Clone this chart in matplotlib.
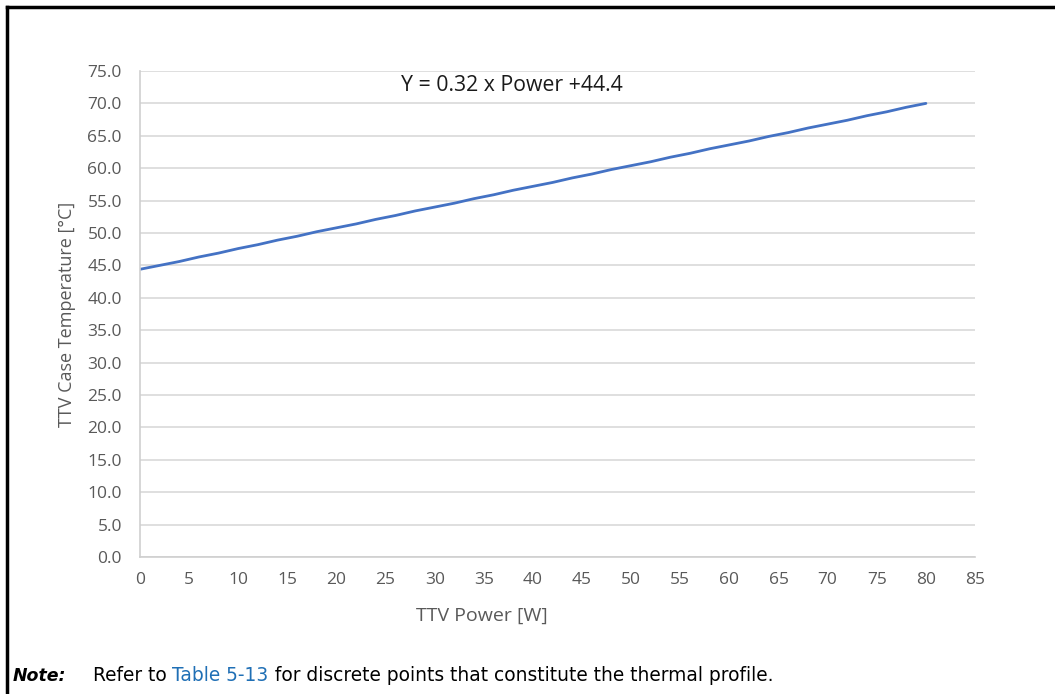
import matplotlib.pyplot as plt
from matplotlib.lines import Line2D

# TTV power [W] and case temperature [C]
power = [0, 2, 4, 6, 8, 10, 12, 14, 16, 18, 20, 22, 24, 26, 28, 30, 32, 34, 36, 38, 40,
         42, 44, 46, 48, 50, 52, 54, 56, 58, 60, 62, 64, 66, 68, 70, 72, 74, 76, 78, 80]
temp = [44.4, 45.0, 45.6, 46.3, 46.9, 47.6, 48.2, 48.9, 49.5, 50.2, 50.8,
        51.4, 52.1, 52.7, 53.4, 54.0, 54.6, 55.3, 55.9, 56.6, 57.2,
        57.8, 58.5, 59.1, 59.8, 60.4, 61.0, 61.7, 62.3, 63.0, 63.6,
        64.2, 64.9, 65.5, 66.2, 66.8, 67.4, 68.1, 68.7, 69.4, 70.0]
xticks = list(range(0, 90, 5))
yticks = [i * 5.0 for i in range(16)]

fig = plt.figure(figsize=(10.55, 6.94), dpi=100)
ax = fig.add_axes([0.1327, 0.1974, 0.7915, 0.7003])

ax.plot(power, temp, color='#4472C4', lw=2.0, solid_capstyle='round')
ax.set_xlim(0, 85)
ax.set_ylim(0, 75)
ax.set_xticks(xticks)
ax.set_yticks(yticks)
ax.set_yticklabels([f'{v:.1f}' for v in yticks])
ax.grid(axis='y', color='#d9d9d9', lw=1.2)
ax.set_axisbelow(True)
for s in ['top', 'right']:
    ax.spines[s].set_visible(False)
for s in ['left', 'bottom']:
    ax.spines[s].set_color('#cfcfcf')
    ax.spines[s].set_linewidth(1.2)
ax.tick_params(length=0, labelsize=12.5, labelcolor='#595959')
ax.tick_params(axis='y', pad=13)
ax.tick_params(axis='x', pad=11)
for lab in ax.get_xticklabels() + ax.get_yticklabels():
    lab.set_family('Open Sans')

ax.set_xlabel('TTV Power [W]', family='Open Sans', fontsize=14, color='#595959')
ax.xaxis.set_label_coords(0.41, -0.102)
ax.set_ylabel('TTV Case Temperature [°C]', family='Open Sans', fontsize=13, color='#595959')
ax.yaxis.set_label_coords(-0.077, 0.5)

ax.text(26.6, 72.7, 'Y = 0.32 x Power +44.4', family='Open Sans', fontsize=15.3,
        color='#1a1a1a', va='center', ha='left')

# page frame
fig.add_artist(Line2D([0.0066, 1.0], [0.9899, 0.9899], color='black', lw=2.5))
fig.add_artist(Line2D([0.0066, 0.0066], [0.0, 0.9899], color='black', lw=2.5))

# note line
fs = 13.4
t1 = fig.text(0.0123, 0.019, 'Note:', family='DejaVu Sans', fontsize=12.5,
              weight='bold', style='italic', color='black', va='baseline')
t2 = fig.text(0.088, 0.019, 'Refer to ', family='DejaVu Sans', fontsize=fs,
              color='black', va='baseline')
t3 = fig.text(0, 0, 'Table 5-13', family='DejaVu Sans', fontsize=fs, color='#1f6fb5',
              va='baseline')
fig.canvas.draw()
r = fig.canvas.get_renderer()
bb = t2.get_window_extent(r)
t3.set_position((bb.x1 / fig.bbox.width, 0.019))
fig.canvas.draw()
bb = t3.get_window_extent(r)
fig.text(bb.x1 / fig.bbox.width, 0.019, ' for discrete points that constitute the thermal profile.',
         family='DejaVu Sans', fontsize=fs, color='black', va='baseline')

fig.savefig('out.png', dpi=100)
